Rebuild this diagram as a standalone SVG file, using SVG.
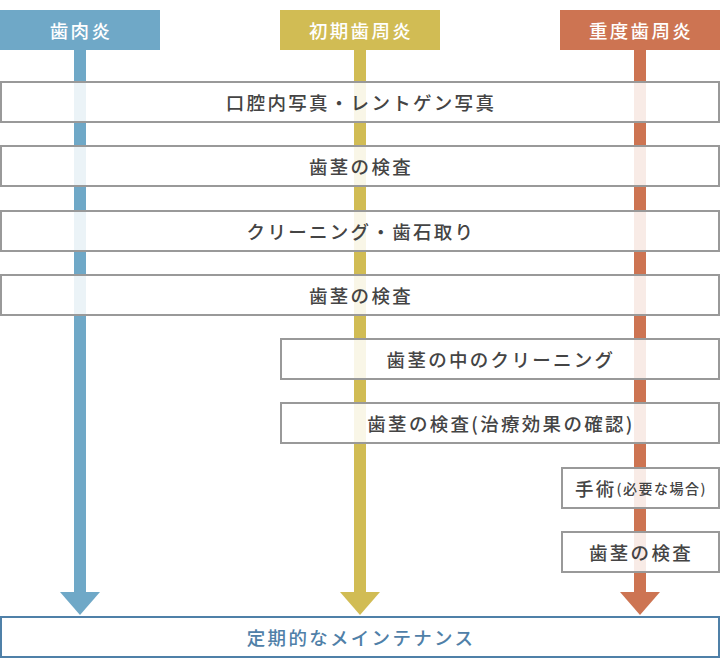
<svg xmlns="http://www.w3.org/2000/svg" width="720" height="669" viewBox="0 0 720 669">
<style>
text{font-family:"Noto Sans CJK JP","Noto Sans",sans-serif;font-weight:500;font-size:18.5px;letter-spacing:2.3px;text-anchor:middle;dominant-baseline:central}
.hd{fill:#fff}
.box rect{fill:#fff;fill-opacity:0.86;stroke:#999;stroke-width:2}
.box text{fill:#444}
.sm{font-size:14px;letter-spacing:1.5px}
#maint rect{fill:#fff;stroke:#4f80a8;stroke-width:2}
#maint text{fill:#4f80a8}
</style>
<rect width="720" height="669" fill="#fff"/>
<g id="h1"><rect x="0" y="10" width="160" height="40" fill="#6fa8c7"/><text class="hd" x="81" y="30">歯肉炎</text></g>
<g id="h2"><rect x="280" y="10" width="160" height="40" fill="#d1bc54"/><text class="hd" x="361" y="30">初期歯周炎</text></g>
<g id="h3"><rect x="560" y="10" width="160" height="40" fill="#cd7452"/><text class="hd" x="641" y="30">重度歯周炎</text></g>
<g id="connectors">
<rect x="74" y="50" width="12" height="543" fill="#6fa8c7"/><polygon points="60,592 100,592 80,615" fill="#6fa8c7"/>
<rect x="354" y="50" width="12" height="543" fill="#d1bc54"/><polygon points="340,592 380,592 360,615" fill="#d1bc54"/>
<rect x="634" y="50" width="12" height="543" fill="#cd7452"/><polygon points="620,592 660,592 640,615" fill="#cd7452"/>
</g>
<g id="n1" class="box"><rect x="1" y="82" width="718" height="40"/><text x="361" y="102">口腔内写真・レントゲン写真</text></g>
<g id="n2" class="box"><rect x="1" y="146" width="718" height="40"/><text x="361" y="166">歯茎の検査</text></g>
<g id="n3" class="box"><rect x="1" y="211" width="718" height="40"/><text x="361" y="231">クリーニング・歯石取り</text></g>
<g id="n4" class="box"><rect x="1" y="275" width="718" height="40"/><text x="361" y="295">歯茎の検査</text></g>
<g id="n5" class="box"><rect x="281" y="339" width="438" height="40"/><text x="501" y="359">歯茎の中のクリーニング</text></g>
<g id="n6" class="box"><rect x="281" y="403" width="438" height="40"/><text x="501" y="423">歯茎の検査(治療効果の確認)</text></g>
<g id="n7" class="box"><rect x="562" y="468" width="157" height="40"/><text x="641" y="488">手術<tspan class="sm">(必要な場合)</tspan></text></g>
<g id="n8" class="box"><rect x="562" y="532" width="157" height="40"/><text x="641" y="552">歯茎の検査</text></g>
<g id="maint"><rect x="1" y="617" width="718" height="40"/><text x="361" y="637">定期的なメインテナンス</text></g>
</svg>
